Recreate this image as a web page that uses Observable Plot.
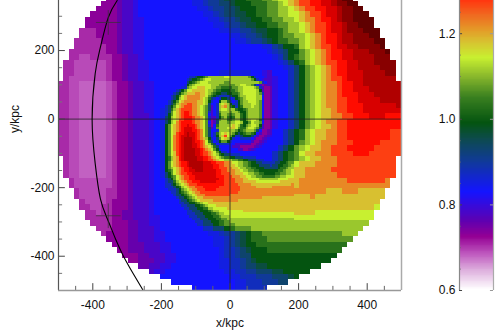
<!DOCTYPE html>
<html><head><meta charset="utf-8">
<script src="https://cdn.jsdelivr.net/npm/d3@7"></script>
<script src="https://cdn.jsdelivr.net/npm/@observablehq/plot@0.6"></script>
<style>html,body{margin:0;padding:0;background:#fff}#c{position:relative;width:503px;height:330px;overflow:hidden}#c svg{position:absolute;left:0;top:0;background:transparent}</style>
</head><body><div id="c"></div>
<script>
const levelKeys = "Aabcudvewfxgyhijklmnopqrst";
const levelValues = [.68,.69,.705,.73,.755,.78,.805,.829,.85,.875,.90,.93,.96,.99,1.03,1.07,1.11,1.142,1.18,1.22,1.27,1.31,1.36,1.41,1.46,1.52];
const colorStops = [.6,.647,.682,.724,.76,.829,.9,.95,.99,1.05,1.1,1.142,1.18,1.207,1.2425,1.275,1.31,1.36,1.41,1.46,1.52];
const colorRange = ["#ffffff","#dcacdc","#c05cc0","#940094","#5f00b0","#1414ff","#103a98","#0d4a50","#045410","#3a8020","#8cba2c","#c8f030","#d8c030","#e49a28","#f06820","#ff3810","#ff0c00","#d80000","#b00000","#880000","#600000"];

const outerRows = [
"cccccccc cccuddve eeeeeeee ewwfxxgy yhhiiijj kllmnoop pqqrsttt tttttttt",
"cccccccc cccuddve eeeeeeee ewwfxxgg yhhhiiij jklmnoop pqqrsstt tttttttt",
"cccccccc cccuddve eeeeeeee eewwfxxg gyhhhiij jkklmnoo ppqqrsst tttttttt",
"cccccccc cccuddve eeeeeeee eeewwfxg gyyhhiij jkkllmno opqqrsst tttttttt",
"bbbccccc cccuddvv eeeeeeee eeeewwfx xgyyhhii jjkklmnn oppqrsst tttttttt",
"bbbbbccc cccuddvv eeeeeeee eeeeewwf xxgyyhhi ijjkklmn oopqqrss tttttttt",
"bbbbbbbc cccuddvv eeeeeeee eeeeeeww ffxxgyyh hijkklmn oopqqrss sttttttt",
"bbbbbbbc cccuddvv eeeeeeee eeeeeeee wwfxxgyh hijjkklm noppqrrs sstttttt",
"bbbbbbbb cccuddvv eeeeeeee eeeeeeee ewwfxxgy hiijjklm noppqrrs sssttttt",
"bbbbbbbb bccuddvv eeeeeeee eeeeeeee eeeeeeww xghhiklm noopqqrr sssstttt",
"bbbbbbbb bccuddvv eeeeeeee eeeeeeee eeeeeeew fxghhjkl mnoppqqr rrsssttt",
"bbbbaabb bbccuddv eeeeeeee eeeeeeee eeeeeeee wfghijkl mnoppqqr rrrssstt",
"bbbaaaaa abccuddv veeeeeee eeeeeeee eeeeeeee ewfghikl mnooppqq rrrsssss",
"bbbaaaaa abccuddv veeeeeee eeeeeeee eeeeeeee eewfghjk lmnoppqq rrrrssss",
"bbbaaaaa abccuddv veeeeeee eeeeeeww wwwweevd eeefghjk lmnoppqq qrrrrsss",
"bbaaaaaa abccuddv veeeeeee eeeeeeee eeeeeeee veefghjk lmnoopqq qrrrrrrs",
"bbaaAAAA Aabccudd vveeeeee eeeeeeee eeeeeeee veefghjk lmnnoppq qrrrrrrr",
"bbaaAAAA Aabccudd vveeeeee eeeeeeee eeeeeeee veefghjk lmnnoppq qqrrrrrr",
"bbaaAAAA Aabccudd vveeeeee eeeeeeee eeeeeeee veefghjk lmnnoppp qqqrrrrr",
"bbaaAAAA Aabccudd vveeeeee eeeeeeee eeeeeeee veefghjk lmnnoopp qqqqrrrr",
"bbaaAAAA Aabccudd vveeeeee eeeeeeee eeeeeeee veefghjk lmnnoopp pqqqqqqr",
"bbaaAAAA Aabccudd vveweeee eeeeeeee eeeeeeee veefghjk lmmnoopp pqqqqqqq",
"bbaaAAAA Aabccudd dvewwwee eeeeeeee eeeeeeee veefghjk lmmnnoop ppqqqppp",
"bbaaAAAA Aabccudd dvewwwee eeeeeeee eeeeeeee veefghjk lmnnoopp pppppppp",
"bbaaAAAA Aabccudd dvewwwee eeeeeeee eeeeeeee veefghjk lmmnoopp pppppppp",
"bbaaAAAA Aabccudd dvewwwee eeeeeeee eeeeeeee eefghikl mmnnoopp ppppppoo",
"bbaaAAAA Aabccudd dvewwwee eeeeeeee eeeeeeee eefghikl mmnnoopp ppppppoo",
"bbaaAAAA Aabccudd dvewwwee eeeeeeee eeeeeeee eefghjkl mnnnooop ppppoooo",
"bbaaAAAA Aabccudd dvewwwee eeeeeeee eeeeeeee efghjklm mnnooopp pppooooo",
"bbaaAAAA Aabccudd dvewwwee eeeeeeee eeeeeeee fghijlmm nnnoooop ppoooooo",
"bbaaAAAA Aabccudd dvewwwee eeeeeeee eeeeeeee fghijklm mnnnoooo oooooooo",
"bbaaAAAA Aabccudd dvewhkln pqrqqpon lkjihhgg hijklmmm nnnnoooo oooooooo",
"bbaaAAAA Aabccudd dvewhjlm oqqqqpon nmmlkjih ijklmmnn nnnooooo oooooooo",
"bbaaAAAA Aabccudd dvewhjln oppqqpoo nnmmllkk kklmmmnn nnnnoooo oooooooo",
"bbbaaaaa aabccudd dveeghjl mnooppoo onnnmmll llmmmnnn nnnnnnoo ooooonnn",
"bbbaaaaa aabccudd dveeeghi klmnoooo onnnnnmm mmmmmnnn nnnnnnnn nnnnnnnn",
"bbbbaaaa abbccudd dveeewgh iklmnnoo nnnnnnnn nnnnnnnn nnmmmnnn mmmmmmmm",
"bbbbaaaa abbccudd dveeeewg hiklmmnn nnnnnnnn nnnmmmmn mmmmmmmm mmmmmmmm",
"bbbbbaaa abcccudd dveeeewf ghijkllm mmmnnnnn mmmmmmmm mmmmmmmm mmmmmlll",
"bbbbbbaa bbcccudd dveeeeew fgghikll mmmmmmmm mmmmmmmm mmmmmmmm mmmlllll",
"bbbbbbba bbccuudd dveeeeee ffgghijk lllmmmmm mmmmmmmm llllllll llllllll",
"bbbbbbbb bbccuudd dvveeeee efffghij kkllllll llllllll llllllll llllllll",
"bbbbbbbb bbcccuud dvveeeee eefffghi jkkkkkkk kkkkkkkk kkkkkkkk kkkkkkkk",
"bbbbbbbb bbcccuud ddveeeee eeeffggh ijjjkkkk kkkkkkkk kkkkkkkk kkkkkkkk",
"bbbbbbbb bccccuud ddvveeee eeeewwfx xgyhiijj jjjjjjjj jjjjjkkk kkkkkkkk",
"bbbbbbbb bccccuud ddvveeee eeeeewwf xgyhiiij jjjjjjjj jjjjjjjj jjjjjjjj",
"bbbbbbbb bccccuuu dddvveee eeeeewwf xgyhhiii iiiiiiii iiiiiiii iiiiiiii",
"bbbbbbbb bccccuuu dddvveee eeeeeewf fxgyhhhi iiiiiiii iiiiiiii iiiiiiii",
"bbbbbbbb bccccccu udddvvee eeeeeewf fxgghhhh hhhhhhhh hhhhhhhh hhhhhhhh",
"bbbbbbbb bccccccu uuddvvee eeeeeeww ffxgyhhh hhhhhhhh hhhhhhhh hhhhhhhh",
"bbbbbbbb bccccccu uddvveee eeeeeeww ffxggyyh hhhhhhhh hhhhhhhh hhhhhhhh",
"bbbbbbbb bccccccu ddvveeee eeeeeeew wffxxggg yyhhhhhh hhhhhhhh hhhhhhhh",
"bbbbbbbb bccccccu dvveeeee eeeeeeee wwfffxxx gggyhhhh hhhhhhhh hhhhhhhh",
"bbbbbbbb bccccccu dvveeeee eeeeeeee ewwfffxx xggggggg gggggggg gggggggg",
"bbbbbbbb bccccccu veeeeeee eeeeeeee ewwfffff xxxggggg ffffffff ffffffff"
];
const leftRows = [
"eeeeeeee","eeeeeeee","eeeeeeee","eeeeeeew","eeeeeewf","eeeefghj","eeefghjk","eefghjlm",
"eefghklm","efghjlmn","efgikmnn","fghjlmno","fgikmnoo","fgjlmnop","fhjlmnop","ghklmnop",
"ghklmoop","ghklnopp","hjlmnopp","hjlmnopq","hjlmnopq","hjlmoppq","hjlnopqq","hjlnopqr",
"hjlnopqr","hjlnopqr","hjlnopqr","hjlnopqr","hjlmopqr","hjlmopqr","hikmnpqr","hikmnpqr"
];
const lowerRows = [
"hjlmnopp qrrrrrqq qppooonn mllkkjji hhggffff fgghhijj",
"hjlmnopp qrrrrrqq qqppoonn mmlkkjji hhhggggf gghhiijk",
"hjklmnop pqrrrrqq qqppooon nmmlkkjj iihhhggg gghiijkk",
"hijlmnop pqqrrrqq qqqppoon nnmmlkkj jiihhhhh hhiijkkl",
"ghjlmnoo ppqqqqqq qqqppooo nnmmmllk kjjiihhh hiijjkkl",
"ghijlmno oppqqqqq qqqpppoo onnnmmll kkjjiiii ijjkklll",
"fghjlmno oppqqqqq qqqqppoo oonnnmml lllkkkkk kkllllmm",
"fggiklmn oopppqqq qqqpppoo oonnnmmm mmllllll lllmmmmm",
"ffghjklm nooopppp ppppppoo ooonnnnn mmmmmmmm mmmmmmmn",
"fffghikl mnnooopp ppppoooo oooonnnn nnmmmmmm nnnnnnnn",
"efffghjk lmnnooop pppooooo oooonnnn nnnnnnnn nnnnnnnn",
"eeffghij klmnnooo oooooooo ooonnnnn nnnnnnnn nnnnnnnn",
"eeefgghi jklmnnno oooooooo nnnnnnnn nnnnnnnn nnnnnnnn",
"eeeefggh ijklmmnn nnnnnnnn nnnnnnnn nnnnmmmm mmmmmmmm",
"eeeeefgg hijklmmm mmnnnnnn nnnmmmmm mmmmmmmm mmmmmmmm",
"eeeeeffg ghhijkll mmmmmmmm mmmmmmmm mmmmmmmm mmmmmmmm",
"eeeeeeff ggghhijk lllmmmmm mmmmmmmm mmmmmmmm mmmmmmmm",
"eeeeeeef fggghhii kklllllm mmmmmmmm mmmmmmmm mmmmmmmm",
"eeeeeeee ffggghhh ijkkllll lllllmmm mmmmmmmm mmmmmmmm",
"eeeeeeee fffggghh hiijkkll llllllll llllllll llllllll",
"eeeeeeee efffgggh hhiijkkk llllllll llllllll llllllll",
"eeeeeeee eefffggg hhhiijjk kkkkkkkk kkkkkkkk kkkkkkkk",
"eeeeeeee eeefffgg ghhhiijj kkkkkkkk kkkkkkkk kkkkkkkk",
"eeeeeeee eeeeffgg gghhiijj jjkkkkkk kkkkkkkk kkkkkkkk"
];
const innerRows = [
"effghhij kkkkkkll kkkkkkkj hfeeevdd",
"fghhijkl lkkkkkkk kkkkkkkk jhfevddd",
"ghijklll kkkkkkjj kkkkkkkk kkkjfedd",
"hjklllll lkkkjjjj jjkkllkk jgedcudd",
"jkllmmml lkkjjiii ijjkklll lkjfdccu",
"llmmmmml kkjiihhh iijkklll llkhdccu",
"mmmnnmml kjihhggh hiijklll llkjfccu",
"nnnnnmml jihgffff ghhjkkll llkkeccu",
"nnnnnmlk igfefhhg efhijkll llkkeccu",
"nnnnmmlk hfeehkki fefhjkkl llkjeccu",
"oonnmmlk geefklmk hffhjkkk llkjeccu",
"oonnmlkj gdefkmnk ihfhikkk lkkjeccu",
"oonnmlkj gdefkllk kkihhijk kkkjeccu",
"ponnmlkj fdefjkkk jkkjhhjk kkkjeccu",
"ponnmlkj edefikkj ijkkihjk kkkjeccu",
"pponnmlj fddfhjki hikkihjk kkkjeccu",
"pponnmlj fcdgjkki ijkkihjk llkieccu",
"pponnmlj ecdgkkkj kkllkhhj lkkjeccu",
"qpponmlj fceikkkk lmlkihjk llkhdccu",
"qqponmlj gdejkkkl mmljiikl lkjgdccu",
"qqpponlj geefkkkk kkjhijkk kjgeccud",
"rqqponlj gefiklml kjhghijj ihedccud",
"rqqponlj gefhkmol jhffghhh gedccudv",
"rrqponmk hfegjlmk hfeeffff edccudve",
"rrqpponl igefhjjh feeeeeee dccudvee",
"rrqqponl kigeffff eedddddd ccudveee",
"rrqqponm lkigeeee edddcccc cudveeee",
"rrrqqpon mljhfeee eeeddccu dveeeeee",
"rrrqqpoo nmljhffe eeeeeeee eeeeeeee",
"rrrqqpoo nmlkihgg ffffeeee eeeeeeee",
"rrrrqqpp onmlkjii hhgggfff ffeeeeee",
"rrrrqqpp oonmllkk kjjiihhg ggfffeee"
];
const arcX = [-329,-355,-378,-393,-402,-393,-378,-358,-334,-311,-282,-253];
const arcY = [346,296,209,133,0,-130,-232,-290,-349,-399,-451,-500];
const crossX = [-355,-355];
const crossY = [282,-282];
const majorTicks = [-400,-200,0,200,400];
const minorTicks = [-450,-350,-300,-250,-150,-100,-50,50,100,150,250,300,350,450];
const yMajorTicks = [-400,-200,0,200];
const yMinorTicks = [-450,-350,-300,-250,-150,-100,-50,50,100,150,250,300];
const barTicks = [0.6,0.8,1.0,1.2];
const barMinorTicks = [.65,.7,.75,.85,.9,.95,1.05,1.1,1.15,1.25];

const font = '"Liberation Sans", Arial, Helvetica, sans-serif';
const levelOf = ch => levelValues[levelKeys.indexOf(ch)];
const outerSize = 1000/64, fineSize = 500/64;
const grid = (rows, left, top, size) => rows.flatMap((s,k) => Array.from(s.replace(/ /g,""), (ch,i) => {
  const x1=left+i*size, y2=top-k*size;
  return {x1, x2:x1+size, y1:y2-size, y2, v:levelOf(ch)};
}));
const outerCells = grid(outerRows,-500,359.375,outerSize)
  .filter(d => Math.hypot((d.x1+d.x2)/2,(d.y1+d.y2)/2) < 505);
const leftCells = grid(leftRows,-187.5,125,fineSize);
const lowerCells = grid(lowerRows,-187.5,-125,fineSize);
const innerCells = grid(innerRows,-125,125,fineSize);
const color = {type:"linear", domain:colorStops, range:colorRange, interpolate:"rgb"};
const cellOpts = {x1:"x1",x2:"x2",y1:"y1",y2:"y2",fill:"v",shapeRendering:"crispEdges"};
const arc = arcX.map((x,i)=>({x,y:arcY[i]}));
const crosses = crossX.map((x,i)=>({x,y:crossY[i]}));

const main = Plot.plot({
  width:503, height:330, marginLeft:58, marginRight:102, marginTop:0, marginBottom:40,
  style:{fontFamily:font, fontSize:"12px", background:"transparent", color:"#111"},
  x:{domain:[-500,500]}, y:{domain:[-500,346]}, color,
  marks:[
    Plot.rect(outerCells, cellOpts),
    Plot.rect(leftCells, cellOpts),
    Plot.rect(lowerCells, cellOpts),
    Plot.rect(innerCells, cellOpts),
    Plot.ruleX([0],{y1:-500,y2:346,stroke:"#222",strokeWidth:.8}),
    Plot.ruleY([0],{x1:-500,x2:500,stroke:"#222",strokeWidth:.8}),
    Plot.line(arc,{x:"x",y:"y",stroke:"#000",strokeWidth:1.1,curve:"natural"}),
    Plot.dot(crosses,{x:"x",y:"y",symbol:"plus",r:8,stroke:"#333",strokeWidth:.7}),
    Plot.ruleX(majorTicks,{y1:-500,y2:-480,stroke:"#444"}),
    Plot.ruleX(minorTicks,{y1:-500,y2:-488,stroke:"#666"}),
    Plot.ruleY(yMajorTicks,{x1:-500,x2:-480,stroke:"#444"}),
    Plot.ruleY(yMinorTicks,{x1:-500,x2:-488,stroke:"#777"}),
    Plot.ruleX([-500],{y1:-500,y2:346,stroke:"#555",strokeWidth:1.2}),
    Plot.ruleX([500],{y1:-500,y2:346,stroke:"#aaa",strokeWidth:1.5}),
    Plot.ruleY([-500],{x1:-500,x2:500,stroke:"#999",strokeWidth:1.5}),
    Plot.axisX({ticks:majorTicks,tickSize:0,tickPadding:10,tickFormat:d=>String(d),label:null,fontSize:12}),
    Plot.axisY({ticks:yMajorTicks,tickSize:0,tickPadding:4,tickFormat:d=>String(d),label:null,fontSize:12}),
    Plot.text(["x/kpc"],{x:0,y:-500,dy:33,fontSize:12,fill:"#111"}),
    Plot.text(["y/kpc"],{x:-500,y:0,dx:-43,rotate:-90,fontSize:12,fill:"#111"})
  ]
});
const barBase = 0.6, barTop = 1.2776;
const barLevels = d3.range(barBase, barTop, 0.002);
const bar = Plot.plot({
  width:503, height:330, marginLeft:459, marginRight:10, marginTop:0, marginBottom:40,
  style:{fontFamily:font, fontSize:"12px", background:"transparent", color:"#111"},
  x:{domain:[0,1],axis:null}, y:{domain:[barBase,barTop]}, color,
  marks:[
    Plot.rect(barLevels,{x1:0,x2:1,y1:d=>d,y2:d=>d+0.002,fill:d=>d,shapeRendering:"crispEdges"}),
    Plot.ruleY(barTicks,{x1:0,x2:0.09,stroke:"#444"}),
    Plot.ruleY(barMinorTicks,{x1:0,x2:0.05,stroke:"#666"}),
    Plot.ruleY(barTicks,{x1:0.91,x2:1,stroke:"#999"}),
    Plot.ruleX([0],{y1:barBase,y2:barTop,stroke:"#888",strokeWidth:1.2}),
    Plot.ruleX([1],{y1:barBase,y2:barTop,stroke:"#aaa",strokeWidth:1.2}),
    Plot.axisY({ticks:barTicks,tickSize:0,tickPadding:4,tickFormat:d=>d.toFixed(1),label:null,fontSize:12})
  ]
});
document.getElementById("c").append(main, bar);
</script></body></html>
